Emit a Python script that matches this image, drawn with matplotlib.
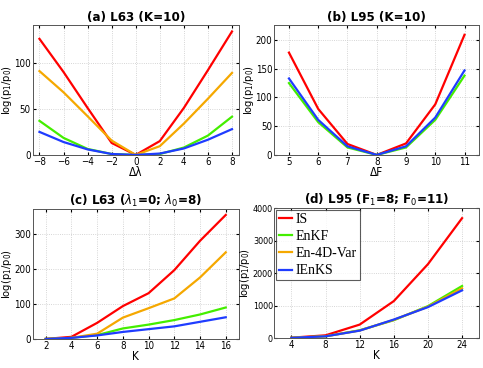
import matplotlib
matplotlib.use("Agg")
import matplotlib.pyplot as plt
from matplotlib import font_manager

# ---- data ----
methods = ["IS", "EnKF", "En-4D-Var", "IEnKS"]
colors = {"IS": "#ff0000", "EnKF": "#44ee00", "En-4D-Var": "#f5a800", "IEnKS": "#1f3cff"}

a_x = [-8, -6, -4, -2, 0, 2, 4, 6, 8]
a_IS = [126, 90, 51, 13, 0, 15, 51, 92, 134]
a_EnKF = [37, 18.5, 6.5, 1, 0, 1, 8, 21, 41.5]
a_En4DVar = [91, 68, 42, 15.6, 0, 9.5, 34, 61, 89]
a_IEnKS = [25, 14, 6, 1, 0, 1.5, 7, 16.5, 28]

b_x = [5, 6, 7, 8, 9, 10, 11]
b_IS = [178, 80, 19, 0, 20, 88, 209]
b_EnKF = [125, 57, 13, 0, 13, 61, 138]
b_IEnKS = [133, 61, 15, 0, 15, 65, 147]

c_x = [2, 4, 6, 8, 10, 12, 14, 16]
c_IS = [0, 6, 46, 94, 131, 197, 281, 355]
c_EnKF = [0, 3, 11, 30, 41, 54, 70, 90]
c_En4DVar = [0, 3, 15, 61, 88, 116, 176, 248]
c_IEnKS = [0, 3, 10, 20, 28, 36, 49, 62]

d_x = [4, 8, 12, 16, 20, 24]
d_IS = [10, 83, 413, 1137, 2274, 3690]
d_EnKF = [5, 52, 238, 548, 982, 1602]
d_En4DVar = [5, 52, 232, 558, 965, 1530]
d_IEnKS = [5, 52, 227, 568, 951, 1468]

names = {f.name for f in font_manager.fontManager.ttflist}
cands = [n for n in ["Liberation Sans Narrow", "DejaVu Sans"] if n in names]
plt.rcParams["font.family"] = cands
plt.rcParams["font.stretch"] = "condensed"

fig = plt.figure(figsize=(4.83, 3.68), dpi=100)
axa = fig.add_axes([0.068, 0.579, 0.426, 0.353])
axb = fig.add_axes([0.568, 0.579, 0.424, 0.353])
axc = fig.add_axes([0.068, 0.079, 0.426, 0.353])
axd = fig.add_axes([0.568, 0.0815, 0.424, 0.353])

lw = 1.6

def style(ax, title, xlabel):
    ax.set_title(title, fontsize=9.5, fontweight="bold", pad=3)
    ax.set_xlabel(xlabel, fontsize=8.5, labelpad=-1)
    ax.set_ylabel(r"log(p$_1$/p$_0$)", fontsize=8)
    ax.yaxis.set_label_coords(-0.09, 0.5)
    ax.grid(True, linestyle=":", color="#c8c8c8", linewidth=0.6)
    ax.tick_params(direction="in", length=2, labelsize=7, pad=1.5, top=True, right=True)
    for s in ax.spines.values():
        s.set_color("#555555")
        s.set_linewidth(0.7)

# (a)
axa.plot(a_x, a_IS, color=colors["IS"], lw=lw)
axa.plot(a_x, a_EnKF, color=colors["EnKF"], lw=lw)
axa.plot(a_x, a_En4DVar, color=colors["En-4D-Var"], lw=lw)
axa.plot(a_x, a_IEnKS, color=colors["IEnKS"], lw=lw)
axa.set_xlim(-8.55, 8.55)
axa.set_ylim(0, 141)
axa.set_xticks([-8, -6, -4, -2, 0, 2, 4, 6, 8])
axa.set_xticklabels(["\u22128", "\u22126", "\u22124", "\u22122", "0", "2", "4", "6", "8"])
axa.set_yticks([0, 50, 100])
style(axa, "(a) L63 (K=10)", "\u0394\u03bb")

# (b)
axb.plot(b_x, b_IS, color=colors["IS"], lw=lw)
axb.plot(b_x, b_EnKF, color=colors["EnKF"], lw=lw)
axb.plot(b_x, b_IEnKS, color=colors["IEnKS"], lw=lw)
axb.set_xlim(4.5, 11.5)
axb.set_ylim(0, 226)
axb.set_xticks(b_x)
axb.set_yticks([0, 50, 100, 150, 200])
style(axb, "(b) L95 (K=10)", "\u0394F")

# (c)
axc.plot(c_x, c_IS, color=colors["IS"], lw=lw)
axc.plot(c_x, c_EnKF, color=colors["EnKF"], lw=lw)
axc.plot(c_x, c_En4DVar, color=colors["En-4D-Var"], lw=lw)
axc.plot(c_x, c_IEnKS, color=colors["IEnKS"], lw=lw)
axc.set_xlim(1, 17)
axc.set_ylim(0, 372)
axc.set_xticks(c_x)
axc.set_yticks([0, 100, 200, 300])
style(axc, r"(c) L63 ($\lambda_1$=0; $\lambda_0$=8)", "K")

# (d)
axd.plot(d_x, d_IS, color=colors["IS"], lw=lw, label="IS")
axd.plot(d_x, d_EnKF, color=colors["EnKF"], lw=lw, label="EnKF")
axd.plot(d_x, d_En4DVar, color=colors["En-4D-Var"], lw=lw, label="En-4D-Var")
axd.plot(d_x, d_IEnKS, color=colors["IEnKS"], lw=lw, label="IEnKS")
axd.set_xlim(2, 26)
axd.set_ylim(0, 4000)
axd.set_xticks(d_x)
axd.set_yticks([0, 1000, 2000, 3000, 4000])
style(axd, r"(d) L95 (F$_1$=8; F$_0$=11)", "K")
axd.tick_params(axis="y", labelsize=6.5, pad=1)
axd.yaxis.set_label_coords(-0.107, 0.5)
serif = [n for n in ["Liberation Serif", "DejaVu Serif"] if n in names]
leg = axd.legend(loc="upper left", prop={"family": serif, "size": 10, "stretch": "normal"},
                 frameon=True, fancybox=False, edgecolor="#333333", handlelength=0.9,
                 handletextpad=0.3, borderpad=0.2, labelspacing=0.3, borderaxespad=0.15)
leg.get_frame().set_linewidth(0.8)

fig.savefig("out.png", dpi=100)
